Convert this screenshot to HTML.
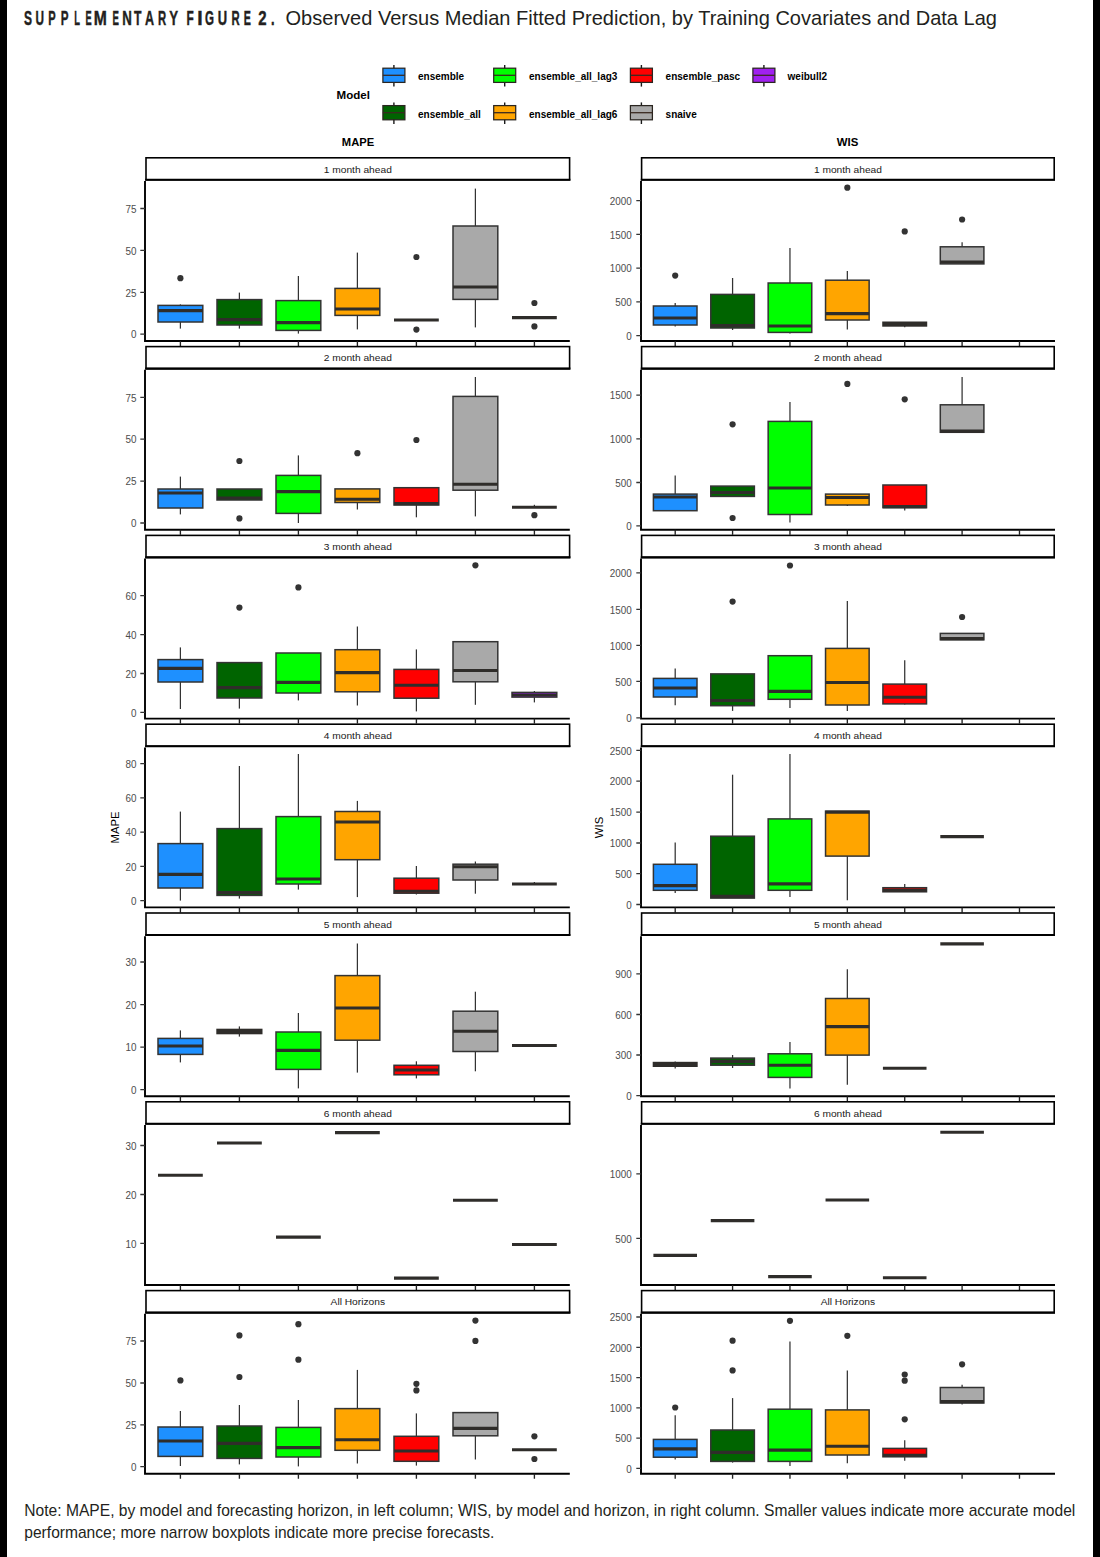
<!DOCTYPE html>
<html><head><meta charset="utf-8"><style>
html,body{margin:0;padding:0;background:#fff;}
body{width:1100px;height:1557px;overflow:hidden;position:relative;}
svg{position:absolute;left:0;top:0;}
text{font-family:"Liberation Sans",sans-serif;}
.st{font-size:9.6px;fill:#1a1a1a;text-anchor:middle;}
.tk{font-size:10.4px;fill:#4d4d4d;text-anchor:end;}
.lg{font-size:10px;font-weight:bold;fill:#000;}
.bx{stroke:#333;stroke-width:1.5;}
.wh{stroke:#333;stroke-width:1.25;}
.md{stroke:#2f2d2a;stroke-width:3.1;}
</style></head><body>
<svg width="1100" height="1557" viewBox="0 0 1100 1557">
<rect x="0" y="0" width="7" height="1557" fill="#000"/>
<rect x="1093" y="0" width="7" height="1557" fill="#000"/>
<g font-size="20.3" font-weight="bold" fill="#231f20" stroke="#231f20" stroke-width="0.45"><text transform="translate(24 0) scale(0.5920 1)" x="0" y="24.6">S</text><text transform="translate(35.54 0) scale(0.5820 1)" x="0" y="24.6">U</text><text transform="translate(48.21 0) scale(0.5484 1)" x="0" y="24.6">P</text><text transform="translate(60.87 0) scale(0.5745 1)" x="0" y="24.6">P</text><text transform="translate(74.22 0) scale(0.4607 1)" x="0" y="24.6">L</text><text transform="translate(85.43 0) scale(0.4566 1)" x="0" y="24.6">E</text><text transform="translate(93.7 0) scale(0.7750 1)" x="0" y="24.6">M</text><text transform="translate(112.41 0) scale(0.4742 1)" x="0" y="24.6">E</text><text transform="translate(122.16 0) scale(0.6536 1)" x="0" y="24.6">N</text><text transform="translate(134.11 0) scale(0.6023 1)" x="0" y="24.6">T</text><text transform="translate(144.94 0) scale(0.6168 1)" x="0" y="24.6">A</text><text transform="translate(158.09 0) scale(0.5587 1)" x="0" y="24.6">R</text><text transform="translate(169.22 0) scale(0.6529 1)" x="0" y="24.6">Y</text><text transform="translate(186.46 0) scale(0.5826 1)" x="0" y="24.6">F</text><text transform="translate(197.15 0) scale(0.9579 1)" x="0" y="24.6">I</text><text transform="translate(205.08 0) scale(0.5694 1)" x="0" y="24.6">G</text><text transform="translate(217.77 0) scale(0.6393 1)" x="0" y="24.6">U</text><text transform="translate(231.39 0) scale(0.5587 1)" x="0" y="24.6">R</text><text transform="translate(243.83 0) scale(0.5269 1)" x="0" y="24.6">E</text><text transform="translate(258.23 0) scale(0.7368 1)" x="0" y="24.6">2</text><text transform="translate(270.88 0) scale(0.6284 1)" x="0" y="24.6">.</text></g>
<text x="285.5" y="24.5" font-size="20.3" fill="#231f20" textLength="711.5" lengthAdjust="spacingAndGlyphs">Observed Versus Median Fitted Prediction, by Training Covariates and Data Lag</text>
<text x="336.6" y="99" font-size="10.6" font-weight="bold" fill="#000" textLength="33.4" lengthAdjust="spacingAndGlyphs">Model</text>
<line x1="393.9" y1="65" x2="393.9" y2="86.6" stroke="#1a1a1a" stroke-width="1.4"/>
<rect x="382.9" y="68.2" width="22" height="14.2" fill="#1E90FF" stroke="#2a2520" stroke-width="1.25"/>
<line x1="382.9" y1="75.3" x2="404.9" y2="75.3" stroke="#3a2a20" stroke-width="1.3"/>
<text x="418" y="79.9" class="lg">ensemble</text>
<line x1="504.7" y1="65" x2="504.7" y2="86.6" stroke="#1a1a1a" stroke-width="1.4"/>
<rect x="493.7" y="68.2" width="22" height="14.2" fill="#00FF00" stroke="#2a2520" stroke-width="1.25"/>
<line x1="493.7" y1="75.3" x2="515.7" y2="75.3" stroke="#3a2a20" stroke-width="1.3"/>
<text x="529" y="79.9" class="lg">ensemble_all_lag3</text>
<line x1="641.4" y1="65" x2="641.4" y2="86.6" stroke="#1a1a1a" stroke-width="1.4"/>
<rect x="630.4" y="68.2" width="22" height="14.2" fill="#FF0000" stroke="#2a2520" stroke-width="1.25"/>
<line x1="630.4" y1="75.3" x2="652.4" y2="75.3" stroke="#3a2a20" stroke-width="1.3"/>
<text x="665.6" y="79.9" class="lg">ensemble_pasc</text>
<line x1="763.9" y1="65" x2="763.9" y2="86.6" stroke="#1a1a1a" stroke-width="1.4"/>
<rect x="752.9" y="68.2" width="22" height="14.2" fill="#A020F0" stroke="#2a2520" stroke-width="1.25"/>
<line x1="752.9" y1="75.3" x2="774.9" y2="75.3" stroke="#3a2a20" stroke-width="1.3"/>
<text x="787.6" y="79.9" class="lg">weibull2</text>
<line x1="393.9" y1="102.4" x2="393.9" y2="124" stroke="#1a1a1a" stroke-width="1.4"/>
<rect x="382.9" y="105.6" width="22" height="14.2" fill="#006400" stroke="#2a2520" stroke-width="1.25"/>
<line x1="382.9" y1="112.7" x2="404.9" y2="112.7" stroke="#3a2a20" stroke-width="1.3"/>
<text x="418" y="117.6" class="lg">ensemble_all</text>
<line x1="504.7" y1="102.4" x2="504.7" y2="124" stroke="#1a1a1a" stroke-width="1.4"/>
<rect x="493.7" y="105.6" width="22" height="14.2" fill="#FFA500" stroke="#2a2520" stroke-width="1.25"/>
<line x1="493.7" y1="112.7" x2="515.7" y2="112.7" stroke="#3a2a20" stroke-width="1.3"/>
<text x="529" y="117.6" class="lg">ensemble_all_lag6</text>
<line x1="641.4" y1="102.4" x2="641.4" y2="124" stroke="#1a1a1a" stroke-width="1.4"/>
<rect x="630.4" y="105.6" width="22" height="14.2" fill="#A9A9A9" stroke="#2a2520" stroke-width="1.25"/>
<line x1="630.4" y1="112.7" x2="652.4" y2="112.7" stroke="#3a2a20" stroke-width="1.3"/>
<text x="665.6" y="117.6" class="lg">snaive</text>
<text x="358" y="145.8" font-size="11.2" font-weight="bold" fill="#000" text-anchor="middle">MAPE</text>
<text x="847.5" y="145.8" font-size="11.4" font-weight="bold" fill="#000" text-anchor="middle">WIS</text>
<text transform="translate(118.6,827.5) rotate(-90)" font-size="11.3" fill="#000" text-anchor="middle">MAPE</text>
<text transform="translate(603,827.5) rotate(-90)" font-size="11.3" fill="#000" text-anchor="middle">WIS</text>
<rect x="146" y="157.8" width="423.6" height="22" fill="#fff" stroke="#000" stroke-width="1.6"/>
<line x1="145.2" y1="179.8" x2="570.4" y2="179.8" stroke="#000" stroke-width="2.1"/>
<text x="357.8" y="172.5" class="st" textLength="68.05" lengthAdjust="spacingAndGlyphs">1 month ahead</text>
<path d="M145 181V341H569.8" fill="none" stroke="#000" stroke-width="1.9"/>
<path d="M180.4 341v5M239.4 341v5M298.4 341v5M357.4 341v5M416.4 341v5M475.4 341v5M534.4 341v5" stroke="#222" stroke-width="1.35"/>
<path d="M140.3 334.2H145M140.3 292.3H145M140.3 250.4H145M140.3 208.5H145" stroke="#333" stroke-width="1.3"/>
<text x="136.6" y="338.4" class="tk" textLength="5.5" lengthAdjust="spacingAndGlyphs">0</text>
<text x="136.6" y="296.5" class="tk" textLength="11" lengthAdjust="spacingAndGlyphs">25</text>
<text x="136.6" y="254.6" class="tk" textLength="11" lengthAdjust="spacingAndGlyphs">50</text>
<text x="136.6" y="212.7" class="tk" textLength="11" lengthAdjust="spacingAndGlyphs">75</text>
<line x1="180.4" y1="304.4" x2="180.4" y2="305.4" class="wh"/>
<line x1="180.4" y1="322" x2="180.4" y2="328.6" class="wh"/>
<rect x="158" y="305.4" width="44.8" height="16.6" fill="#1E90FF" class="bx"/>
<line x1="158" y1="310.6" x2="202.8" y2="310.6" class="md"/>
<circle cx="180.4" cy="278.2" r="3.1" fill="#333"/>
<line x1="239.4" y1="292.6" x2="239.4" y2="299.6" class="wh"/>
<line x1="239.4" y1="325" x2="239.4" y2="328.6" class="wh"/>
<rect x="217" y="299.6" width="44.8" height="25.4" fill="#006400" class="bx"/>
<line x1="217" y1="319.6" x2="261.8" y2="319.6" class="md"/>
<line x1="298.4" y1="276" x2="298.4" y2="300.6" class="wh"/>
<line x1="298.4" y1="330.4" x2="298.4" y2="333.6" class="wh"/>
<rect x="276" y="300.6" width="44.8" height="29.8" fill="#00FF00" class="bx"/>
<line x1="276" y1="322.6" x2="320.8" y2="322.6" class="md"/>
<line x1="357.4" y1="252.6" x2="357.4" y2="288.4" class="wh"/>
<line x1="357.4" y1="315.4" x2="357.4" y2="329.4" class="wh"/>
<rect x="335" y="288.4" width="44.8" height="27" fill="#FFA500" class="bx"/>
<line x1="335" y1="309" x2="379.8" y2="309" class="md"/>
<line x1="394" y1="320" x2="438.8" y2="320" class="md"/>
<circle cx="416.4" cy="257" r="3.1" fill="#333"/>
<circle cx="416.4" cy="329.6" r="3.1" fill="#333"/>
<line x1="475.4" y1="188.6" x2="475.4" y2="226" class="wh"/>
<line x1="475.4" y1="299.4" x2="475.4" y2="327.4" class="wh"/>
<rect x="453" y="226" width="44.8" height="73.4" fill="#A9A9A9" class="bx"/>
<line x1="453" y1="287" x2="497.8" y2="287" class="md"/>
<line x1="512" y1="317.6" x2="556.8" y2="317.6" class="md"/>
<circle cx="534.4" cy="303" r="3.1" fill="#333"/>
<circle cx="534.4" cy="326.4" r="3.1" fill="#333"/>
<rect x="146" y="346.6" width="423.6" height="22" fill="#fff" stroke="#000" stroke-width="1.6"/>
<line x1="145.2" y1="368.6" x2="570.4" y2="368.6" stroke="#000" stroke-width="2.1"/>
<text x="357.8" y="361.3" class="st" textLength="68.05" lengthAdjust="spacingAndGlyphs">2 month ahead</text>
<path d="M145 369.8V529.8H569.8" fill="none" stroke="#000" stroke-width="1.9"/>
<path d="M180.4 529.8v5M239.4 529.8v5M298.4 529.8v5M357.4 529.8v5M416.4 529.8v5M475.4 529.8v5M534.4 529.8v5" stroke="#222" stroke-width="1.35"/>
<path d="M140.3 523H145M140.3 481.1H145M140.3 439.2H145M140.3 397.3H145" stroke="#333" stroke-width="1.3"/>
<text x="136.6" y="527.2" class="tk" textLength="5.5" lengthAdjust="spacingAndGlyphs">0</text>
<text x="136.6" y="485.3" class="tk" textLength="11" lengthAdjust="spacingAndGlyphs">25</text>
<text x="136.6" y="443.4" class="tk" textLength="11" lengthAdjust="spacingAndGlyphs">50</text>
<text x="136.6" y="401.5" class="tk" textLength="11" lengthAdjust="spacingAndGlyphs">75</text>
<line x1="180.4" y1="476.6" x2="180.4" y2="489" class="wh"/>
<line x1="180.4" y1="508" x2="180.4" y2="514.4" class="wh"/>
<rect x="158" y="489" width="44.8" height="19" fill="#1E90FF" class="bx"/>
<line x1="158" y1="493" x2="202.8" y2="493" class="md"/>
<rect x="217" y="489" width="44.8" height="11" fill="#006400" class="bx"/>
<line x1="217" y1="498" x2="261.8" y2="498" class="md"/>
<circle cx="239.4" cy="461" r="3.1" fill="#333"/>
<circle cx="239.4" cy="518.4" r="3.1" fill="#333"/>
<line x1="298.4" y1="455.4" x2="298.4" y2="475.4" class="wh"/>
<line x1="298.4" y1="513.4" x2="298.4" y2="523" class="wh"/>
<rect x="276" y="475.4" width="44.8" height="38" fill="#00FF00" class="bx"/>
<line x1="276" y1="491.6" x2="320.8" y2="491.6" class="md"/>
<line x1="357.4" y1="502.5" x2="357.4" y2="509.5" class="wh"/>
<rect x="335" y="488.9" width="44.8" height="13.6" fill="#FFA500" class="bx"/>
<line x1="335" y1="499.3" x2="379.8" y2="499.3" class="md"/>
<circle cx="357.4" cy="453.2" r="3.1" fill="#333"/>
<line x1="416.4" y1="505" x2="416.4" y2="517.3" class="wh"/>
<rect x="394" y="487.7" width="44.8" height="17.3" fill="#FF0000" class="bx"/>
<line x1="394" y1="503.6" x2="438.8" y2="503.6" class="md"/>
<circle cx="416.4" cy="440" r="3.1" fill="#333"/>
<line x1="475.4" y1="377" x2="475.4" y2="396.4" class="wh"/>
<line x1="475.4" y1="490.2" x2="475.4" y2="516.4" class="wh"/>
<rect x="453" y="396.4" width="44.8" height="93.8" fill="#A9A9A9" class="bx"/>
<line x1="453" y1="484.3" x2="497.8" y2="484.3" class="md"/>
<line x1="534.4" y1="504.8" x2="534.4" y2="507.3" class="wh"/>
<line x1="512" y1="507.3" x2="556.8" y2="507.3" class="md"/>
<circle cx="534.4" cy="515.2" r="3.1" fill="#333"/>
<rect x="146" y="535.4" width="423.6" height="22" fill="#fff" stroke="#000" stroke-width="1.6"/>
<line x1="145.2" y1="557.4" x2="570.4" y2="557.4" stroke="#000" stroke-width="2.1"/>
<text x="357.8" y="550.1" class="st" textLength="68.05" lengthAdjust="spacingAndGlyphs">3 month ahead</text>
<path d="M145 558.6V718.6H569.8" fill="none" stroke="#000" stroke-width="1.9"/>
<path d="M180.4 718.6v5M239.4 718.6v5M298.4 718.6v5M357.4 718.6v5M416.4 718.6v5M475.4 718.6v5M534.4 718.6v5" stroke="#222" stroke-width="1.35"/>
<path d="M140.3 712.4H145M140.3 673.5H145M140.3 634.6H145M140.3 595.6H145" stroke="#333" stroke-width="1.3"/>
<text x="136.6" y="716.6" class="tk" textLength="5.5" lengthAdjust="spacingAndGlyphs">0</text>
<text x="136.6" y="677.7" class="tk" textLength="11" lengthAdjust="spacingAndGlyphs">20</text>
<text x="136.6" y="638.8" class="tk" textLength="11" lengthAdjust="spacingAndGlyphs">40</text>
<text x="136.6" y="599.8" class="tk" textLength="11" lengthAdjust="spacingAndGlyphs">60</text>
<line x1="180.4" y1="647.4" x2="180.4" y2="659.6" class="wh"/>
<line x1="180.4" y1="682" x2="180.4" y2="709" class="wh"/>
<rect x="158" y="659.6" width="44.8" height="22.4" fill="#1E90FF" class="bx"/>
<line x1="158" y1="668.4" x2="202.8" y2="668.4" class="md"/>
<line x1="239.4" y1="698" x2="239.4" y2="708.6" class="wh"/>
<rect x="217" y="662.6" width="44.8" height="35.4" fill="#006400" class="bx"/>
<line x1="217" y1="687.6" x2="261.8" y2="687.6" class="md"/>
<circle cx="239.4" cy="607.6" r="3.1" fill="#333"/>
<line x1="298.4" y1="693" x2="298.4" y2="700.4" class="wh"/>
<rect x="276" y="653" width="44.8" height="40" fill="#00FF00" class="bx"/>
<line x1="276" y1="682.4" x2="320.8" y2="682.4" class="md"/>
<circle cx="298.4" cy="587.4" r="3.1" fill="#333"/>
<line x1="357.4" y1="626.5" x2="357.4" y2="649.7" class="wh"/>
<line x1="357.4" y1="691.8" x2="357.4" y2="705.5" class="wh"/>
<rect x="335" y="649.7" width="44.8" height="42.1" fill="#FFA500" class="bx"/>
<line x1="335" y1="672.6" x2="379.8" y2="672.6" class="md"/>
<line x1="416.4" y1="649.4" x2="416.4" y2="669.4" class="wh"/>
<line x1="416.4" y1="698.2" x2="416.4" y2="711.4" class="wh"/>
<rect x="394" y="669.4" width="44.8" height="28.8" fill="#FF0000" class="bx"/>
<line x1="394" y1="685.2" x2="438.8" y2="685.2" class="md"/>
<line x1="475.4" y1="681.8" x2="475.4" y2="704.8" class="wh"/>
<rect x="453" y="641.7" width="44.8" height="40.1" fill="#A9A9A9" class="bx"/>
<line x1="453" y1="670.5" x2="497.8" y2="670.5" class="md"/>
<circle cx="475.4" cy="565.3" r="3.1" fill="#333"/>
<line x1="534.4" y1="691" x2="534.4" y2="692.4" class="wh"/>
<line x1="534.4" y1="697.1" x2="534.4" y2="702.4" class="wh"/>
<rect x="512" y="692.4" width="44.8" height="4.7" fill="#A020F0" class="bx"/>
<line x1="512" y1="695" x2="556.8" y2="695" class="md"/>
<rect x="146" y="724.2" width="423.6" height="22" fill="#fff" stroke="#000" stroke-width="1.6"/>
<line x1="145.2" y1="746.2" x2="570.4" y2="746.2" stroke="#000" stroke-width="2.1"/>
<text x="357.8" y="738.9" class="st" textLength="68.05" lengthAdjust="spacingAndGlyphs">4 month ahead</text>
<path d="M145 747.4V907.4H569.8" fill="none" stroke="#000" stroke-width="1.9"/>
<path d="M180.4 907.4v5M239.4 907.4v5M298.4 907.4v5M357.4 907.4v5M416.4 907.4v5M475.4 907.4v5M534.4 907.4v5" stroke="#222" stroke-width="1.35"/>
<path d="M140.3 900.6H145M140.3 866.4H145M140.3 832.1H145M140.3 797.8H145M140.3 763.6H145" stroke="#333" stroke-width="1.3"/>
<text x="136.6" y="904.8" class="tk" textLength="5.5" lengthAdjust="spacingAndGlyphs">0</text>
<text x="136.6" y="870.6" class="tk" textLength="11" lengthAdjust="spacingAndGlyphs">20</text>
<text x="136.6" y="836.3" class="tk" textLength="11" lengthAdjust="spacingAndGlyphs">40</text>
<text x="136.6" y="802" class="tk" textLength="11" lengthAdjust="spacingAndGlyphs">60</text>
<text x="136.6" y="767.8" class="tk" textLength="11" lengthAdjust="spacingAndGlyphs">80</text>
<line x1="180.4" y1="811.6" x2="180.4" y2="843.6" class="wh"/>
<line x1="180.4" y1="888" x2="180.4" y2="900.6" class="wh"/>
<rect x="158" y="843.6" width="44.8" height="44.4" fill="#1E90FF" class="bx"/>
<line x1="158" y1="874.4" x2="202.8" y2="874.4" class="md"/>
<line x1="239.4" y1="766" x2="239.4" y2="828.6" class="wh"/>
<line x1="239.4" y1="895.4" x2="239.4" y2="898.6" class="wh"/>
<rect x="217" y="828.6" width="44.8" height="66.8" fill="#006400" class="bx"/>
<line x1="217" y1="892.6" x2="261.8" y2="892.6" class="md"/>
<line x1="298.4" y1="754" x2="298.4" y2="816.6" class="wh"/>
<line x1="298.4" y1="884" x2="298.4" y2="889.6" class="wh"/>
<rect x="276" y="816.6" width="44.8" height="67.4" fill="#00FF00" class="bx"/>
<line x1="276" y1="879" x2="320.8" y2="879" class="md"/>
<line x1="357.4" y1="800.9" x2="357.4" y2="811.5" class="wh"/>
<line x1="357.4" y1="859.7" x2="357.4" y2="897.1" class="wh"/>
<rect x="335" y="811.5" width="44.8" height="48.2" fill="#FFA500" class="bx"/>
<line x1="335" y1="822" x2="379.8" y2="822" class="md"/>
<line x1="416.4" y1="866" x2="416.4" y2="878.2" class="wh"/>
<line x1="416.4" y1="893.2" x2="416.4" y2="894.5" class="wh"/>
<rect x="394" y="878.2" width="44.8" height="15" fill="#FF0000" class="bx"/>
<line x1="394" y1="891.3" x2="438.8" y2="891.3" class="md"/>
<line x1="475.4" y1="861.5" x2="475.4" y2="864.2" class="wh"/>
<line x1="475.4" y1="880" x2="475.4" y2="893.7" class="wh"/>
<rect x="453" y="864.2" width="44.8" height="15.8" fill="#A9A9A9" class="bx"/>
<line x1="453" y1="866.8" x2="497.8" y2="866.8" class="md"/>
<line x1="534.4" y1="882" x2="534.4" y2="884" class="wh"/>
<line x1="512" y1="884" x2="556.8" y2="884" class="md"/>
<rect x="146" y="913" width="423.6" height="22" fill="#fff" stroke="#000" stroke-width="1.6"/>
<line x1="145.2" y1="935" x2="570.4" y2="935" stroke="#000" stroke-width="2.1"/>
<text x="357.8" y="927.7" class="st" textLength="68.05" lengthAdjust="spacingAndGlyphs">5 month ahead</text>
<path d="M145 936.2V1096.2H569.8" fill="none" stroke="#000" stroke-width="1.9"/>
<path d="M180.4 1096.2v5M239.4 1096.2v5M298.4 1096.2v5M357.4 1096.2v5M416.4 1096.2v5M475.4 1096.2v5M534.4 1096.2v5" stroke="#222" stroke-width="1.35"/>
<path d="M140.3 1089.6H145M140.3 1047.1H145M140.3 1004.6H145M140.3 962H145" stroke="#333" stroke-width="1.3"/>
<text x="136.6" y="1093.8" class="tk" textLength="5.5" lengthAdjust="spacingAndGlyphs">0</text>
<text x="136.6" y="1051.3" class="tk" textLength="11" lengthAdjust="spacingAndGlyphs">10</text>
<text x="136.6" y="1008.8" class="tk" textLength="11" lengthAdjust="spacingAndGlyphs">20</text>
<text x="136.6" y="966.2" class="tk" textLength="11" lengthAdjust="spacingAndGlyphs">30</text>
<line x1="180.4" y1="1030.4" x2="180.4" y2="1038.4" class="wh"/>
<line x1="180.4" y1="1054.4" x2="180.4" y2="1062.4" class="wh"/>
<rect x="158" y="1038.4" width="44.8" height="16" fill="#1E90FF" class="bx"/>
<line x1="158" y1="1046" x2="202.8" y2="1046" class="md"/>
<line x1="239.4" y1="1026.4" x2="239.4" y2="1031.5" class="wh"/>
<line x1="239.4" y1="1031.5" x2="239.4" y2="1036.6" class="wh"/>
<rect x="216.3" y="1028.7" width="46.2" height="5.6" fill="#2f2d2a"/>
<line x1="298.4" y1="1013" x2="298.4" y2="1032" class="wh"/>
<line x1="298.4" y1="1069.4" x2="298.4" y2="1088.4" class="wh"/>
<rect x="276" y="1032" width="44.8" height="37.4" fill="#00FF00" class="bx"/>
<line x1="276" y1="1050.4" x2="320.8" y2="1050.4" class="md"/>
<line x1="357.4" y1="943.5" x2="357.4" y2="975.6" class="wh"/>
<line x1="357.4" y1="1040.2" x2="357.4" y2="1072.6" class="wh"/>
<rect x="335" y="975.6" width="44.8" height="64.6" fill="#FFA500" class="bx"/>
<line x1="335" y1="1008" x2="379.8" y2="1008" class="md"/>
<line x1="416.4" y1="1061.3" x2="416.4" y2="1065.3" class="wh"/>
<line x1="416.4" y1="1074.8" x2="416.4" y2="1078.4" class="wh"/>
<rect x="394" y="1065.3" width="44.8" height="9.5" fill="#FF0000" class="bx"/>
<line x1="394" y1="1070" x2="438.8" y2="1070" class="md"/>
<line x1="475.4" y1="991.7" x2="475.4" y2="1011.2" class="wh"/>
<line x1="475.4" y1="1051.5" x2="475.4" y2="1071.3" class="wh"/>
<rect x="453" y="1011.2" width="44.8" height="40.3" fill="#A9A9A9" class="bx"/>
<line x1="453" y1="1031.2" x2="497.8" y2="1031.2" class="md"/>
<line x1="512" y1="1045.5" x2="556.8" y2="1045.5" class="md"/>
<rect x="146" y="1101.8" width="423.6" height="22" fill="#fff" stroke="#000" stroke-width="1.6"/>
<line x1="145.2" y1="1123.8" x2="570.4" y2="1123.8" stroke="#000" stroke-width="2.1"/>
<text x="357.8" y="1116.5" class="st" textLength="68.05" lengthAdjust="spacingAndGlyphs">6 month ahead</text>
<path d="M145 1125V1285H569.8" fill="none" stroke="#000" stroke-width="1.9"/>
<path d="M180.4 1285v5M239.4 1285v5M298.4 1285v5M357.4 1285v5M416.4 1285v5M475.4 1285v5M534.4 1285v5" stroke="#222" stroke-width="1.35"/>
<path d="M140.3 1243.4H145M140.3 1194.5H145M140.3 1145.5H145" stroke="#333" stroke-width="1.3"/>
<text x="136.6" y="1247.6" class="tk" textLength="11" lengthAdjust="spacingAndGlyphs">10</text>
<text x="136.6" y="1198.7" class="tk" textLength="11" lengthAdjust="spacingAndGlyphs">20</text>
<text x="136.6" y="1149.7" class="tk" textLength="11" lengthAdjust="spacingAndGlyphs">30</text>
<line x1="158" y1="1175.2" x2="202.8" y2="1175.2" class="md"/>
<line x1="217" y1="1143" x2="261.8" y2="1143" class="md"/>
<line x1="276" y1="1237.1" x2="320.8" y2="1237.1" class="md"/>
<line x1="335" y1="1132.6" x2="379.8" y2="1132.6" class="md"/>
<line x1="394" y1="1278.1" x2="438.8" y2="1278.1" class="md"/>
<line x1="453" y1="1200.3" x2="497.8" y2="1200.3" class="md"/>
<line x1="512" y1="1244.5" x2="556.8" y2="1244.5" class="md"/>
<rect x="146" y="1290.6" width="423.6" height="22" fill="#fff" stroke="#000" stroke-width="1.6"/>
<line x1="145.2" y1="1312.6" x2="570.4" y2="1312.6" stroke="#000" stroke-width="2.1"/>
<text x="357.8" y="1305.3" class="st" textLength="54.42" lengthAdjust="spacingAndGlyphs">All Horizons</text>
<path d="M145 1313.8V1473.8H569.8" fill="none" stroke="#000" stroke-width="1.9"/>
<path d="M180.4 1473.8v5M239.4 1473.8v5M298.4 1473.8v5M357.4 1473.8v5M416.4 1473.8v5M475.4 1473.8v5M534.4 1473.8v5" stroke="#222" stroke-width="1.35"/>
<path d="M140.3 1466.6H145M140.3 1424.8H145M140.3 1383H145M140.3 1341H145" stroke="#333" stroke-width="1.3"/>
<text x="136.6" y="1470.8" class="tk" textLength="5.5" lengthAdjust="spacingAndGlyphs">0</text>
<text x="136.6" y="1429" class="tk" textLength="11" lengthAdjust="spacingAndGlyphs">25</text>
<text x="136.6" y="1387.2" class="tk" textLength="11" lengthAdjust="spacingAndGlyphs">50</text>
<text x="136.6" y="1345.2" class="tk" textLength="11" lengthAdjust="spacingAndGlyphs">75</text>
<line x1="180.4" y1="1411" x2="180.4" y2="1427" class="wh"/>
<line x1="180.4" y1="1456.4" x2="180.4" y2="1466" class="wh"/>
<rect x="158" y="1427" width="44.8" height="29.4" fill="#1E90FF" class="bx"/>
<line x1="158" y1="1441" x2="202.8" y2="1441" class="md"/>
<circle cx="180.4" cy="1380.4" r="3.1" fill="#333"/>
<line x1="239.4" y1="1405" x2="239.4" y2="1426" class="wh"/>
<line x1="239.4" y1="1458.4" x2="239.4" y2="1464.4" class="wh"/>
<rect x="217" y="1426" width="44.8" height="32.4" fill="#006400" class="bx"/>
<line x1="217" y1="1443.4" x2="261.8" y2="1443.4" class="md"/>
<circle cx="239.4" cy="1335.4" r="3.1" fill="#333"/>
<circle cx="239.4" cy="1377" r="3.1" fill="#333"/>
<line x1="298.4" y1="1400" x2="298.4" y2="1427.4" class="wh"/>
<line x1="298.4" y1="1457" x2="298.4" y2="1466.4" class="wh"/>
<rect x="276" y="1427.4" width="44.8" height="29.6" fill="#00FF00" class="bx"/>
<line x1="276" y1="1447.6" x2="320.8" y2="1447.6" class="md"/>
<circle cx="298.4" cy="1324.2" r="3.1" fill="#333"/>
<circle cx="298.4" cy="1359.7" r="3.1" fill="#333"/>
<line x1="357.4" y1="1369.9" x2="357.4" y2="1408.6" class="wh"/>
<line x1="357.4" y1="1450.3" x2="357.4" y2="1463.5" class="wh"/>
<rect x="335" y="1408.6" width="44.8" height="41.7" fill="#FFA500" class="bx"/>
<line x1="335" y1="1439.7" x2="379.8" y2="1439.7" class="md"/>
<line x1="416.4" y1="1413.4" x2="416.4" y2="1436.3" class="wh"/>
<line x1="416.4" y1="1461.3" x2="416.4" y2="1465.6" class="wh"/>
<rect x="394" y="1436.3" width="44.8" height="25" fill="#FF0000" class="bx"/>
<line x1="394" y1="1451" x2="438.8" y2="1451" class="md"/>
<circle cx="416.4" cy="1383.8" r="3.1" fill="#333"/>
<circle cx="416.4" cy="1390.4" r="3.1" fill="#333"/>
<line x1="475.4" y1="1435.8" x2="475.4" y2="1459.5" class="wh"/>
<rect x="453" y="1412.6" width="44.8" height="23.2" fill="#A9A9A9" class="bx"/>
<line x1="453" y1="1428.4" x2="497.8" y2="1428.4" class="md"/>
<circle cx="475.4" cy="1320.6" r="3.1" fill="#333"/>
<circle cx="475.4" cy="1340.9" r="3.1" fill="#333"/>
<line x1="512" y1="1449.8" x2="556.8" y2="1449.8" class="md"/>
<circle cx="534.4" cy="1436.3" r="3.1" fill="#333"/>
<circle cx="534.4" cy="1459" r="3.1" fill="#333"/>
<rect x="641.6" y="157.8" width="412.6" height="22" fill="#fff" stroke="#000" stroke-width="1.6"/>
<line x1="640.8" y1="179.8" x2="1055" y2="179.8" stroke="#000" stroke-width="2.1"/>
<text x="847.9" y="172.5" class="st" textLength="68.05" lengthAdjust="spacingAndGlyphs">1 month ahead</text>
<path d="M641 181V341H1055" fill="none" stroke="#000" stroke-width="1.9"/>
<path d="M675.2 341v5M732.58 341v5M789.96 341v5M847.34 341v5M904.72 341v5M962.1 341v5M1019.48 341v5" stroke="#222" stroke-width="1.35"/>
<path d="M636.3 335.6H641M636.3 301.9H641M636.3 268.1H641M636.3 234.3H641M636.3 200.6H641" stroke="#333" stroke-width="1.3"/>
<text x="631.8" y="339.8" class="tk" textLength="5.5" lengthAdjust="spacingAndGlyphs">0</text>
<text x="631.8" y="306.1" class="tk" textLength="16.5" lengthAdjust="spacingAndGlyphs">500</text>
<text x="631.8" y="272.3" class="tk" textLength="22" lengthAdjust="spacingAndGlyphs">1000</text>
<text x="631.8" y="238.5" class="tk" textLength="22" lengthAdjust="spacingAndGlyphs">1500</text>
<text x="631.8" y="204.8" class="tk" textLength="22" lengthAdjust="spacingAndGlyphs">2000</text>
<line x1="675.2" y1="303" x2="675.2" y2="306" class="wh"/>
<line x1="675.2" y1="325" x2="675.2" y2="326.4" class="wh"/>
<rect x="653.4" y="306" width="43.6" height="19" fill="#1E90FF" class="bx"/>
<line x1="653.4" y1="318" x2="697" y2="318" class="md"/>
<circle cx="675.2" cy="275.6" r="3.1" fill="#333"/>
<line x1="732.58" y1="278" x2="732.58" y2="294.4" class="wh"/>
<line x1="732.58" y1="328" x2="732.58" y2="330" class="wh"/>
<rect x="710.78" y="294.4" width="43.6" height="33.6" fill="#006400" class="bx"/>
<line x1="710.78" y1="325.6" x2="754.38" y2="325.6" class="md"/>
<line x1="789.96" y1="248" x2="789.96" y2="283" class="wh"/>
<line x1="789.96" y1="332.4" x2="789.96" y2="333.6" class="wh"/>
<rect x="768.16" y="283" width="43.6" height="49.4" fill="#00FF00" class="bx"/>
<line x1="768.16" y1="326" x2="811.76" y2="326" class="md"/>
<line x1="847.34" y1="271.1" x2="847.34" y2="280.2" class="wh"/>
<line x1="847.34" y1="320" x2="847.34" y2="329.5" class="wh"/>
<rect x="825.54" y="280.2" width="43.6" height="39.8" fill="#FFA500" class="bx"/>
<line x1="825.54" y1="313.6" x2="869.14" y2="313.6" class="md"/>
<circle cx="847.34" cy="187.7" r="3.1" fill="#333"/>
<line x1="904.72" y1="324.1" x2="904.72" y2="327.3" class="wh"/>
<rect x="882.22" y="321.5" width="45" height="5.2" fill="#2f2d2a"/>
<circle cx="904.72" cy="231.4" r="3.1" fill="#333"/>
<line x1="962.1" y1="242.3" x2="962.1" y2="246.8" class="wh"/>
<rect x="940.3" y="246.8" width="43.6" height="17.1" fill="#A9A9A9" class="bx"/>
<line x1="940.3" y1="262" x2="983.9" y2="262" class="md"/>
<circle cx="962.1" cy="219.5" r="3.1" fill="#333"/>
<rect x="641.6" y="346.6" width="412.6" height="22" fill="#fff" stroke="#000" stroke-width="1.6"/>
<line x1="640.8" y1="368.6" x2="1055" y2="368.6" stroke="#000" stroke-width="2.1"/>
<text x="847.9" y="361.3" class="st" textLength="68.05" lengthAdjust="spacingAndGlyphs">2 month ahead</text>
<path d="M641 369.8V529.8H1055" fill="none" stroke="#000" stroke-width="1.9"/>
<path d="M675.2 529.8v5M732.58 529.8v5M789.96 529.8v5M847.34 529.8v5M904.72 529.8v5M962.1 529.8v5M1019.48 529.8v5" stroke="#222" stroke-width="1.35"/>
<path d="M636.3 525.9H641M636.3 482.5H641M636.3 438.9H641M636.3 395.2H641" stroke="#333" stroke-width="1.3"/>
<text x="631.8" y="530.1" class="tk" textLength="5.5" lengthAdjust="spacingAndGlyphs">0</text>
<text x="631.8" y="486.7" class="tk" textLength="16.5" lengthAdjust="spacingAndGlyphs">500</text>
<text x="631.8" y="443.1" class="tk" textLength="22" lengthAdjust="spacingAndGlyphs">1000</text>
<text x="631.8" y="399.4" class="tk" textLength="22" lengthAdjust="spacingAndGlyphs">1500</text>
<line x1="675.2" y1="475.5" x2="675.2" y2="494.1" class="wh"/>
<rect x="653.4" y="494.1" width="43.6" height="16.6" fill="#1E90FF" class="bx"/>
<line x1="653.4" y1="497" x2="697" y2="497" class="md"/>
<rect x="710.78" y="486.1" width="43.6" height="10.3" fill="#006400" class="bx"/>
<line x1="710.78" y1="492.5" x2="754.38" y2="492.5" class="md"/>
<circle cx="732.58" cy="424.3" r="3.1" fill="#333"/>
<circle cx="732.58" cy="518" r="3.1" fill="#333"/>
<line x1="789.96" y1="402" x2="789.96" y2="421.4" class="wh"/>
<line x1="789.96" y1="514.5" x2="789.96" y2="522.5" class="wh"/>
<rect x="768.16" y="421.4" width="43.6" height="93.1" fill="#00FF00" class="bx"/>
<line x1="768.16" y1="488" x2="811.76" y2="488" class="md"/>
<line x1="847.34" y1="505" x2="847.34" y2="505.9" class="wh"/>
<rect x="825.54" y="494.1" width="43.6" height="10.9" fill="#FFA500" class="bx"/>
<line x1="825.54" y1="497.5" x2="869.14" y2="497.5" class="md"/>
<circle cx="847.34" cy="383.9" r="3.1" fill="#333"/>
<line x1="904.72" y1="507.7" x2="904.72" y2="510.5" class="wh"/>
<rect x="882.92" y="485" width="43.6" height="22.7" fill="#FF0000" class="bx"/>
<line x1="882.92" y1="506.6" x2="926.52" y2="506.6" class="md"/>
<circle cx="904.72" cy="399.3" r="3.1" fill="#333"/>
<line x1="962.1" y1="377" x2="962.1" y2="404.8" class="wh"/>
<rect x="940.3" y="404.8" width="43.6" height="27.5" fill="#A9A9A9" class="bx"/>
<line x1="940.3" y1="431.1" x2="983.9" y2="431.1" class="md"/>
<rect x="641.6" y="535.4" width="412.6" height="22" fill="#fff" stroke="#000" stroke-width="1.6"/>
<line x1="640.8" y1="557.4" x2="1055" y2="557.4" stroke="#000" stroke-width="2.1"/>
<text x="847.9" y="550.1" class="st" textLength="68.05" lengthAdjust="spacingAndGlyphs">3 month ahead</text>
<path d="M641 558.6V718.6H1055" fill="none" stroke="#000" stroke-width="1.9"/>
<path d="M675.2 718.6v5M732.58 718.6v5M789.96 718.6v5M847.34 718.6v5M904.72 718.6v5M962.1 718.6v5M1019.48 718.6v5" stroke="#222" stroke-width="1.35"/>
<path d="M636.3 717.8H641M636.3 681.3H641M636.3 645.3H641M636.3 609.3H641M636.3 572.9H641" stroke="#333" stroke-width="1.3"/>
<text x="631.8" y="722" class="tk" textLength="5.5" lengthAdjust="spacingAndGlyphs">0</text>
<text x="631.8" y="685.5" class="tk" textLength="16.5" lengthAdjust="spacingAndGlyphs">500</text>
<text x="631.8" y="649.5" class="tk" textLength="22" lengthAdjust="spacingAndGlyphs">1000</text>
<text x="631.8" y="613.5" class="tk" textLength="22" lengthAdjust="spacingAndGlyphs">1500</text>
<text x="631.8" y="577.1" class="tk" textLength="22" lengthAdjust="spacingAndGlyphs">2000</text>
<line x1="675.2" y1="668.6" x2="675.2" y2="678.4" class="wh"/>
<line x1="675.2" y1="697" x2="675.2" y2="705.2" class="wh"/>
<rect x="653.4" y="678.4" width="43.6" height="18.6" fill="#1E90FF" class="bx"/>
<line x1="653.4" y1="688" x2="697" y2="688" class="md"/>
<line x1="732.58" y1="705.7" x2="732.58" y2="710.9" class="wh"/>
<rect x="710.78" y="673.9" width="43.6" height="31.8" fill="#006400" class="bx"/>
<line x1="710.78" y1="700.5" x2="754.38" y2="700.5" class="md"/>
<circle cx="732.58" cy="601.6" r="3.1" fill="#333"/>
<line x1="789.96" y1="699.3" x2="789.96" y2="708" class="wh"/>
<rect x="768.16" y="655.7" width="43.6" height="43.6" fill="#00FF00" class="bx"/>
<line x1="768.16" y1="691.4" x2="811.76" y2="691.4" class="md"/>
<circle cx="789.96" cy="565.5" r="3.1" fill="#333"/>
<line x1="847.34" y1="601.1" x2="847.34" y2="648.4" class="wh"/>
<line x1="847.34" y1="705" x2="847.34" y2="710.9" class="wh"/>
<rect x="825.54" y="648.4" width="43.6" height="56.6" fill="#FFA500" class="bx"/>
<line x1="825.54" y1="682.5" x2="869.14" y2="682.5" class="md"/>
<line x1="904.72" y1="660.2" x2="904.72" y2="684.1" class="wh"/>
<line x1="904.72" y1="703.9" x2="904.72" y2="704.5" class="wh"/>
<rect x="882.92" y="684.1" width="43.6" height="19.8" fill="#FF0000" class="bx"/>
<line x1="882.92" y1="697.3" x2="926.52" y2="697.3" class="md"/>
<rect x="940.3" y="633.4" width="43.6" height="6.4" fill="#A9A9A9" class="bx"/>
<line x1="940.3" y1="638.6" x2="983.9" y2="638.6" class="md"/>
<circle cx="962.1" cy="617" r="3.1" fill="#333"/>
<rect x="641.6" y="724.2" width="412.6" height="22" fill="#fff" stroke="#000" stroke-width="1.6"/>
<line x1="640.8" y1="746.2" x2="1055" y2="746.2" stroke="#000" stroke-width="2.1"/>
<text x="847.9" y="738.9" class="st" textLength="68.05" lengthAdjust="spacingAndGlyphs">4 month ahead</text>
<path d="M641 747.4V907.4H1055" fill="none" stroke="#000" stroke-width="1.9"/>
<path d="M675.2 907.4v5M732.58 907.4v5M789.96 907.4v5M847.34 907.4v5M904.72 907.4v5M962.1 907.4v5M1019.48 907.4v5" stroke="#222" stroke-width="1.35"/>
<path d="M636.3 904.5H641M636.3 873.7H641M636.3 843H641M636.3 812.1H641M636.3 781.2H641M636.3 750.4H641" stroke="#333" stroke-width="1.3"/>
<text x="631.8" y="908.7" class="tk" textLength="5.5" lengthAdjust="spacingAndGlyphs">0</text>
<text x="631.8" y="877.9" class="tk" textLength="16.5" lengthAdjust="spacingAndGlyphs">500</text>
<text x="631.8" y="847.2" class="tk" textLength="22" lengthAdjust="spacingAndGlyphs">1000</text>
<text x="631.8" y="816.3" class="tk" textLength="22" lengthAdjust="spacingAndGlyphs">1500</text>
<text x="631.8" y="785.4" class="tk" textLength="22" lengthAdjust="spacingAndGlyphs">2000</text>
<text x="631.8" y="754.6" class="tk" textLength="22" lengthAdjust="spacingAndGlyphs">2500</text>
<line x1="675.2" y1="842.5" x2="675.2" y2="864.3" class="wh"/>
<line x1="675.2" y1="890.3" x2="675.2" y2="892.9" class="wh"/>
<rect x="653.4" y="864.3" width="43.6" height="26" fill="#1E90FF" class="bx"/>
<line x1="653.4" y1="885.6" x2="697" y2="885.6" class="md"/>
<line x1="732.58" y1="774.7" x2="732.58" y2="836.2" class="wh"/>
<rect x="710.78" y="836.2" width="43.6" height="61.9" fill="#006400" class="bx"/>
<line x1="710.78" y1="896.4" x2="754.38" y2="896.4" class="md"/>
<line x1="789.96" y1="753.9" x2="789.96" y2="818.9" class="wh"/>
<line x1="789.96" y1="890.3" x2="789.96" y2="896.9" class="wh"/>
<rect x="768.16" y="818.9" width="43.6" height="71.4" fill="#00FF00" class="bx"/>
<line x1="768.16" y1="883.9" x2="811.76" y2="883.9" class="md"/>
<line x1="847.34" y1="856.1" x2="847.34" y2="900.2" class="wh"/>
<rect x="825.54" y="811.1" width="43.6" height="45" fill="#FFA500" class="bx"/>
<line x1="825.54" y1="812.3" x2="869.14" y2="812.3" class="md"/>
<line x1="904.72" y1="883.9" x2="904.72" y2="887.7" class="wh"/>
<rect x="882.92" y="887.7" width="43.6" height="4.1" fill="#FF0000" class="bx"/>
<line x1="882.92" y1="890.2" x2="926.52" y2="890.2" class="md"/>
<line x1="940.3" y1="836.6" x2="983.9" y2="836.6" class="md"/>
<rect x="641.6" y="913" width="412.6" height="22" fill="#fff" stroke="#000" stroke-width="1.6"/>
<line x1="640.8" y1="935" x2="1055" y2="935" stroke="#000" stroke-width="2.1"/>
<text x="847.9" y="927.7" class="st" textLength="68.05" lengthAdjust="spacingAndGlyphs">5 month ahead</text>
<path d="M641 936.2V1096.2H1055" fill="none" stroke="#000" stroke-width="1.9"/>
<path d="M675.2 1096.2v5M732.58 1096.2v5M789.96 1096.2v5M847.34 1096.2v5M904.72 1096.2v5M962.1 1096.2v5M1019.48 1096.2v5" stroke="#222" stroke-width="1.35"/>
<path d="M636.3 1095.6H641M636.3 1055H641M636.3 1014.5H641M636.3 973.9H641" stroke="#333" stroke-width="1.3"/>
<text x="631.8" y="1099.8" class="tk" textLength="5.5" lengthAdjust="spacingAndGlyphs">0</text>
<text x="631.8" y="1059.2" class="tk" textLength="16.5" lengthAdjust="spacingAndGlyphs">300</text>
<text x="631.8" y="1018.7" class="tk" textLength="16.5" lengthAdjust="spacingAndGlyphs">600</text>
<text x="631.8" y="978.1" class="tk" textLength="16.5" lengthAdjust="spacingAndGlyphs">900</text>
<line x1="675.2" y1="1061.4" x2="675.2" y2="1064.4" class="wh"/>
<line x1="675.2" y1="1064.4" x2="675.2" y2="1068.5" class="wh"/>
<rect x="652.7" y="1061.8" width="45" height="5.2" fill="#2f2d2a"/>
<line x1="732.58" y1="1055" x2="732.58" y2="1058.1" class="wh"/>
<line x1="732.58" y1="1065.2" x2="732.58" y2="1068" class="wh"/>
<rect x="710.78" y="1058.1" width="43.6" height="7.1" fill="#006400" class="bx"/>
<line x1="710.78" y1="1061.4" x2="754.38" y2="1061.4" class="md"/>
<line x1="789.96" y1="1042" x2="789.96" y2="1053.8" class="wh"/>
<line x1="789.96" y1="1077.4" x2="789.96" y2="1088.6" class="wh"/>
<rect x="768.16" y="1053.8" width="43.6" height="23.6" fill="#00FF00" class="bx"/>
<line x1="768.16" y1="1065.2" x2="811.76" y2="1065.2" class="md"/>
<line x1="847.34" y1="969.3" x2="847.34" y2="998.5" class="wh"/>
<line x1="847.34" y1="1055.1" x2="847.34" y2="1084.7" class="wh"/>
<rect x="825.54" y="998.5" width="43.6" height="56.6" fill="#FFA500" class="bx"/>
<line x1="825.54" y1="1026.6" x2="869.14" y2="1026.6" class="md"/>
<line x1="882.92" y1="1068.2" x2="926.52" y2="1068.2" class="md"/>
<line x1="940.3" y1="943.9" x2="983.9" y2="943.9" class="md"/>
<rect x="641.6" y="1101.8" width="412.6" height="22" fill="#fff" stroke="#000" stroke-width="1.6"/>
<line x1="640.8" y1="1123.8" x2="1055" y2="1123.8" stroke="#000" stroke-width="2.1"/>
<text x="847.9" y="1116.5" class="st" textLength="68.05" lengthAdjust="spacingAndGlyphs">6 month ahead</text>
<path d="M641 1125V1285H1055" fill="none" stroke="#000" stroke-width="1.9"/>
<path d="M675.2 1285v5M732.58 1285v5M789.96 1285v5M847.34 1285v5M904.72 1285v5M962.1 1285v5M1019.48 1285v5" stroke="#222" stroke-width="1.35"/>
<path d="M636.3 1238.3H641M636.3 1173.8H641" stroke="#333" stroke-width="1.3"/>
<text x="631.8" y="1242.5" class="tk" textLength="16.5" lengthAdjust="spacingAndGlyphs">500</text>
<text x="631.8" y="1178" class="tk" textLength="22" lengthAdjust="spacingAndGlyphs">1000</text>
<line x1="653.4" y1="1255.4" x2="697" y2="1255.4" class="md"/>
<line x1="710.78" y1="1220.6" x2="754.38" y2="1220.6" class="md"/>
<line x1="768.16" y1="1276.6" x2="811.76" y2="1276.6" class="md"/>
<line x1="825.54" y1="1200" x2="869.14" y2="1200" class="md"/>
<line x1="882.92" y1="1277.7" x2="926.52" y2="1277.7" class="md"/>
<line x1="940.3" y1="1132.3" x2="983.9" y2="1132.3" class="md"/>
<rect x="641.6" y="1290.6" width="412.6" height="22" fill="#fff" stroke="#000" stroke-width="1.6"/>
<line x1="640.8" y1="1312.6" x2="1055" y2="1312.6" stroke="#000" stroke-width="2.1"/>
<text x="847.9" y="1305.3" class="st" textLength="54.42" lengthAdjust="spacingAndGlyphs">All Horizons</text>
<path d="M641 1313.8V1473.8H1055" fill="none" stroke="#000" stroke-width="1.9"/>
<path d="M675.2 1473.8v5M732.58 1473.8v5M789.96 1473.8v5M847.34 1473.8v5M904.72 1473.8v5M962.1 1473.8v5M1019.48 1473.8v5" stroke="#222" stroke-width="1.35"/>
<path d="M636.3 1468.3H641M636.3 1438.1H641M636.3 1407.9H641M636.3 1377.6H641M636.3 1347.3H641M636.3 1317H641" stroke="#333" stroke-width="1.3"/>
<text x="631.8" y="1472.5" class="tk" textLength="5.5" lengthAdjust="spacingAndGlyphs">0</text>
<text x="631.8" y="1442.3" class="tk" textLength="16.5" lengthAdjust="spacingAndGlyphs">500</text>
<text x="631.8" y="1412.1" class="tk" textLength="22" lengthAdjust="spacingAndGlyphs">1000</text>
<text x="631.8" y="1381.8" class="tk" textLength="22" lengthAdjust="spacingAndGlyphs">1500</text>
<text x="631.8" y="1351.5" class="tk" textLength="22" lengthAdjust="spacingAndGlyphs">2000</text>
<text x="631.8" y="1321.2" class="tk" textLength="22" lengthAdjust="spacingAndGlyphs">2500</text>
<line x1="675.2" y1="1415.3" x2="675.2" y2="1439.4" class="wh"/>
<line x1="675.2" y1="1457.2" x2="675.2" y2="1459.5" class="wh"/>
<rect x="653.4" y="1439.4" width="43.6" height="17.8" fill="#1E90FF" class="bx"/>
<line x1="653.4" y1="1448.9" x2="697" y2="1448.9" class="md"/>
<circle cx="675.2" cy="1407.5" r="3.1" fill="#333"/>
<line x1="732.58" y1="1398.1" x2="732.58" y2="1430" class="wh"/>
<line x1="732.58" y1="1461.4" x2="732.58" y2="1462.6" class="wh"/>
<rect x="710.78" y="1430" width="43.6" height="31.4" fill="#006400" class="bx"/>
<line x1="710.78" y1="1452.4" x2="754.38" y2="1452.4" class="md"/>
<circle cx="732.58" cy="1340.7" r="3.1" fill="#333"/>
<circle cx="732.58" cy="1370.4" r="3.1" fill="#333"/>
<line x1="789.96" y1="1341.4" x2="789.96" y2="1409.2" class="wh"/>
<line x1="789.96" y1="1461.4" x2="789.96" y2="1465.9" class="wh"/>
<rect x="768.16" y="1409.2" width="43.6" height="52.2" fill="#00FF00" class="bx"/>
<line x1="768.16" y1="1450.1" x2="811.76" y2="1450.1" class="md"/>
<circle cx="789.96" cy="1320.8" r="3.1" fill="#333"/>
<line x1="847.34" y1="1370.4" x2="847.34" y2="1409.9" class="wh"/>
<line x1="847.34" y1="1455" x2="847.34" y2="1463.3" class="wh"/>
<rect x="825.54" y="1409.9" width="43.6" height="45.1" fill="#FFA500" class="bx"/>
<line x1="825.54" y1="1446.3" x2="869.14" y2="1446.3" class="md"/>
<circle cx="847.34" cy="1335.8" r="3.1" fill="#333"/>
<line x1="904.72" y1="1440.2" x2="904.72" y2="1448.4" class="wh"/>
<line x1="904.72" y1="1456.8" x2="904.72" y2="1460.7" class="wh"/>
<rect x="882.92" y="1448.4" width="43.6" height="8.4" fill="#FF0000" class="bx"/>
<line x1="882.92" y1="1455.2" x2="926.52" y2="1455.2" class="md"/>
<circle cx="904.72" cy="1374.5" r="3.1" fill="#333"/>
<circle cx="904.72" cy="1380.7" r="3.1" fill="#333"/>
<circle cx="904.72" cy="1419.3" r="3.1" fill="#333"/>
<line x1="962.1" y1="1384.8" x2="962.1" y2="1387.5" class="wh"/>
<line x1="962.1" y1="1403" x2="962.1" y2="1404.5" class="wh"/>
<rect x="940.3" y="1387.5" width="43.6" height="15.5" fill="#A9A9A9" class="bx"/>
<line x1="940.3" y1="1401.6" x2="983.9" y2="1401.6" class="md"/>
<circle cx="962.1" cy="1364.3" r="3.1" fill="#333"/>
<text x="24.3" y="1515.6" font-size="16.6" fill="#231f20" textLength="1051" lengthAdjust="spacingAndGlyphs">Note: MAPE, by model and forecasting horizon, in left column; WIS, by model and horizon, in right column. Smaller values indicate more accurate model</text>
<text x="24.3" y="1538" font-size="16.6" fill="#231f20" textLength="470" lengthAdjust="spacingAndGlyphs">performance; more narrow boxplots indicate more precise forecasts.</text>
</svg>
</body></html>
